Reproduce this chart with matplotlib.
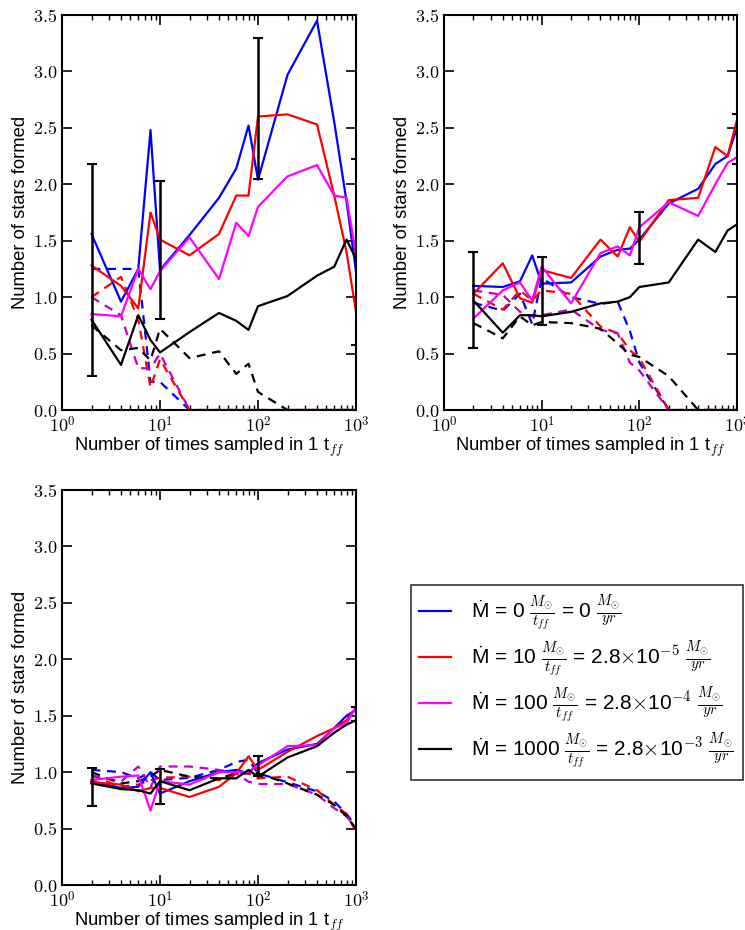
import matplotlib
matplotlib.use("Agg")
import matplotlib.pyplot as plt
import numpy as np
from matplotlib.ticker import FixedLocator, FuncFormatter, LogLocator, NullFormatter

plt.rcParams['mathtext.fontset'] = 'cm'
plt.rcParams['font.family'] = ['Liberation Sans', 'DejaVu Sans']

x = [2, 4, 6, 8, 10, 20, 40, 60, 80, 100, 200, 400, 600, 800, 1000]

# ---- Top-left panel ----
tl_solid = {
    'blue':    [1.56, 0.96, 1.25, 2.48, 1.24, 1.55, 1.88, 2.14, 2.52, 2.04, 2.97, 3.45, 2.55, 1.85, 1.23],
    'red':     [1.28, 1.10, 0.90, 1.75, 1.51, 1.37, 1.56, 1.90, 1.90, 2.60, 2.62, 2.53, 1.90, 1.40, 0.87],
    'magenta': [0.85, 0.83, 1.25, 1.07, 1.23, 1.53, 1.16, 1.66, 1.54, 1.80, 2.07, 2.17, 1.90, 1.88, 1.38],
    'black':   [0.80, 0.40, 0.84, 0.62, 0.51, 0.69, 0.86, 0.79, 0.71, 0.92, 1.01, 1.19, 1.27, 1.51, 1.34],
}
tl_dashed = {
    'blue':    [1.25, 1.25, 1.25, 0.25, 0.25, 0.0, 0, 0, 0, 0, 0, 0, 0, 0, 0],
    'red':     [1.00, 1.18, 0.80, 0.20, 0.45, 0.0, 0, 0, 0, 0, 0, 0, 0, 0, 0],
    'm':       [1.00, 0.84, 0.37, 0.37, 0.50, 0.0, 0, 0, 0, 0, 0, 0, 0, 0, 0],
    'black':   [0.75, 0.53, 0.55, 0.44, 0.72, 0.46, 0.52, 0.32, 0.41, 0.16, 0.0, 0, 0, 0, 0],
}
tl_err_x = [2, 10, 100, 1000]
tl_err_lo = [0.30, 0.81, 2.05, 0.58]
tl_err_hi = [2.18, 2.03, 3.30, 2.22]

# ---- Top-right panel ----
tr_solid = {
    'blue':    [1.10, 1.09, 1.14, 1.37, 1.12, 1.13, 1.36, 1.42, 1.43, 1.51, 1.83, 1.96, 2.18, 2.25, 2.50],
    'red':     [1.03, 1.30, 0.99, 0.95, 1.24, 1.17, 1.51, 1.36, 1.62, 1.49, 1.86, 1.88, 2.33, 2.25, 2.57],
    'magenta': [0.81, 1.06, 1.13, 0.97, 1.27, 0.945, 1.39, 1.45, 1.37, 1.62, 1.84, 1.72, 2.00, 2.19, 2.24],
    'black':   [0.97, 0.685, 0.84, 0.84, 0.83, 0.87, 0.945, 0.96, 1.00, 1.09, 1.13, 1.51, 1.40, 1.59, 1.645],
}
tr_dashed = {
    'blue':    [0.95, 0.88, 1.03, 0.76, 1.17, 1.00, 0.94, 0.96, 0.70, 0.42, 0.0, 0, 0, 0, 0],
    'red':     [1.03, 0.89, 1.06, 0.97, 1.06, 1.03, 0.74, 0.68, 0.53, 0.46, 0.0, 0, 0, 0, 0],
    'm':       [1.06, 1.02, 0.87, 0.83, 0.84, 0.89, 0.71, 0.68, 0.42, 0.35, 0.0, 0, 0, 0, 0],
    'black':   [0.77, 0.635, 0.83, 0.75, 0.78, 0.77, 0.72, 0.59, 0.49, 0.47, 0.30, 0.0, 0, 0, 0],
}
tr_err_x = [2, 10, 100, 1000]
tr_err_lo = [0.55, 0.75, 1.29, 2.18]
tr_err_hi = [1.40, 1.36, 1.75, 2.62]

# ---- Bottom-left panel ----
bl_solid = {
    'blue':    [0.92, 0.86, 0.87, 1.00, 0.81, 0.92, 1.00, 1.02, 0.99, 1.08, 1.20, 1.25, 1.39, 1.50, 1.55],
    'red':     [0.91, 0.89, 0.83, 0.86, 0.86, 0.78, 0.87, 0.99, 1.14, 1.02, 1.18, 1.32, 1.39, 1.46, 1.57],
    'magenta': [0.93, 0.96, 0.97, 0.66, 0.92, 0.89, 1.00, 1.00, 1.00, 1.06, 1.23, 1.24, 1.39, 1.43, 1.58],
    'black':   [0.90, 0.85, 0.84, 0.81, 0.92, 0.84, 0.945, 0.945, 1.02, 0.96, 1.13, 1.23, 1.35, 1.42, 1.46],
}
bl_dashed = {
    'blue':    [1.02, 1.00, 0.945, 1.00, 0.93, 0.95, 1.02, 1.09, 1.11, 0.99, 0.91, 0.83, 0.74, 0.63, 0.52],
    'red':     [0.97, 0.87, 0.89, 0.93, 0.95, 0.96, 0.93, 0.99, 0.99, 0.945, 0.96, 0.84, 0.71, 0.63, 0.47],
    'm':       [0.97, 0.915, 1.05, 0.865, 1.05, 1.05, 1.02, 0.99, 0.915, 0.895, 0.895, 0.80, 0.68, 0.61, 0.50],
    'black':   [1.00, 0.90, 0.92, 0.96, 1.02, 0.96, 0.945, 0.99, 0.99, 0.99, 0.90, 0.80, 0.71, 0.61, 0.50],
}
bl_err_x = [2, 10, 100, 1000]
bl_err_lo = [0.70, 0.72, 0.97, 1.45]
bl_err_hi = [1.04, 1.03, 1.14, 1.58]

legend_labels = [
    '\u1E40 = 0 $\\frac{M_{\\odot}}{t_{ff}}$ = 0 $\\frac{M_{\\odot}}{yr}$',
    '\u1E40 = 10 $\\frac{M_{\\odot}}{t_{ff}}$ = 2.8$\\times$10$^{-5}$ $\\frac{M_{\\odot}}{yr}$',
    '\u1E40 = 100 $\\frac{M_{\\odot}}{t_{ff}}$ = 2.8$\\times$10$^{-4}$ $\\frac{M_{\\odot}}{yr}$',
    '\u1E40 = 1000 $\\frac{M_{\\odot}}{t_{ff}}$ = 2.8$\\times$10$^{-3}$ $\\frac{M_{\\odot}}{yr}$',
]
legend_colors = ['blue', 'red', 'magenta', 'black']

solid_colors = {'blue': '#0000ff', 'red': '#ff0000', 'magenta': '#ff00ff', 'black': '#000000'}
dashed_colors = {'blue': '#0000ff', 'red': '#ff0000', 'm': '#bf00bf', 'black': '#000000'}

fig = plt.figure(figsize=(7.45, 9.3), dpi=100)
W, H = 745.0, 930.0

def make_ax(l, r, t, b):
    return fig.add_axes([l / W, 1 - b / H, (r - l) / W, (b - t) / H])

ax_tl = make_ax(62, 356, 15, 410)
ax_tr = make_ax(444, 737, 15, 410)
ax_bl = make_ax(62, 356, 490, 885)

def draw(ax, solid, dashed, ex, elo, ehi):
    for k, v in dashed.items():
        ax.plot(x, v, color=dashed_colors[k], lw=1.6, ls=(0, (4, 3)))
    for k, v in solid.items():
        ax.plot(x, v, color=solid_colors[k], lw=1.6)
    elo = np.array(elo); ehi = np.array(ehi)
    mid = (elo + ehi) / 2
    ax.errorbar(ex, mid, yerr=(ehi - elo) / 2, fmt='none', ecolor='black',
                elinewidth=1.8, capsize=3.5, capthick=1.5)
    ax.set_xscale('log')
    ax.set_xlim(1, 1000)
    ax.set_ylim(0, 3.5)
    ax.yaxis.set_major_locator(FixedLocator(np.arange(0, 3.51, 0.5)))
    ax.yaxis.set_major_formatter(FuncFormatter(lambda v, p: r'$%.1f$' % v))
    ax.xaxis.set_major_locator(FixedLocator([1, 10, 100, 1000]))
    ax.xaxis.set_major_formatter(FuncFormatter(lambda v, p: r'$10^{%d}$' % round(np.log10(v))))
    ax.xaxis.set_minor_locator(LogLocator(base=10, subs=np.arange(2, 10)))
    ax.xaxis.set_minor_formatter(NullFormatter())
    ax.tick_params(which='both', direction='in', top=True, right=True, labelsize=13)
    ax.tick_params(which='major', length=7, width=1.2)
    ax.tick_params(which='minor', length=3.5, width=1)
    ax.tick_params(axis='x', pad=4)
    for s in ax.spines.values():
        s.set_linewidth(1.5)
    ax.set_ylabel('Number of stars formed', fontsize=13.2, labelpad=3)
    ax.set_xlabel('Number of times sampled in 1 t$_{ff}$', fontsize=13.2, labelpad=0)

draw(ax_tl, tl_solid, tl_dashed, tl_err_x, tl_err_lo, tl_err_hi)
draw(ax_tr, tr_solid, tr_dashed, tr_err_x, tr_err_lo, tr_err_hi)
draw(ax_bl, bl_solid, bl_dashed, bl_err_x, bl_err_lo, bl_err_hi)

handles = [plt.Line2D([], [], color=solid_colors[c], lw=1.6) for c in legend_colors]
leg = fig.legend(handles, legend_labels, loc='upper left',
                 bbox_to_anchor=(411 / W, 1 - 585 / H), fontsize=15,
                 frameon=True, fancybox=False, edgecolor='black',
                 labelspacing=0.3, handlelength=1.5, handletextpad=1.0,
                 borderpad=0.4, borderaxespad=0)
leg.get_frame().set_linewidth(1.2)

fig.savefig('out.png', dpi=100)
